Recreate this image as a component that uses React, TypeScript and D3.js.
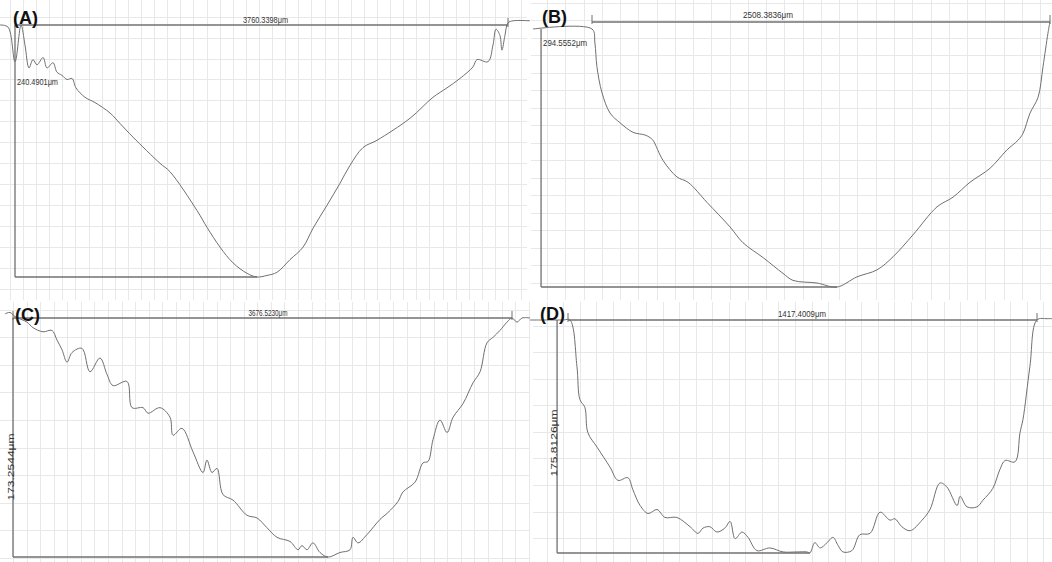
import * as d3 from "d3";

const titles = ["(A)", "(B)", "(C)", "(D)"];
const widthLabels = ["3760.3398μm", "2508.3836μm", "3676.5230μm", "1417.4009μm"];
const depthLabels = ["240.4901μm", "294.5552μm", "173.2544μm", "175.8126μm"];
const widths = [3760.3398, 2508.3836, 3676.523, 1417.4009];
const depths = [240.4901, 294.5552, 173.2544, 175.8126];

// scan position (μm) and depth below the surface (μm)
const posA = [-114, -53, 0, 46, 76, 107, 137, 168, 214, 244, 290, 320, 358, 397, 435, 465, 534, 610, 725, 801, 900, 1106, 1182, 1388, 1464, 1564, 1663, 1770, 1846, 1922, 1998, 2097, 2197, 2273, 2380, 2479, 2555, 2654, 2761, 3013, 3188, 3295, 3394, 3493, 3524, 3608, 3646, 3669, 3699, 3714, 3737, 3760, 3798, 3928];
const depthA = [0, 2, 35, 0, 19, 41, 33, 38, 31, 41, 36, 45, 48, 52, 51, 60, 69, 74, 84, 94, 107, 132, 140, 177, 193, 212, 227, 237, 240.5, 239, 236, 224, 212, 194, 172, 151, 134, 117, 110, 89, 69, 60, 51, 40, 33, 35, 19, 4, 10, 24, 10, -2, -4, -4];

const posB = [-323, 0, 16, 27, 55, 99, 153, 225, 290, 318, 334, 389, 466, 526, 630, 756, 827, 937, 1046, 1101, 1232, 1342, 1451, 1561, 1649, 1758, 1890, 1977, 2070, 2180, 2273, 2333, 2361, 2399, 2443, 2470, 2497, 2508];
const depthB = [0, 0, 16, 43, 73, 96, 107, 118, 121, 124, 127, 150, 169, 175, 198, 226, 244, 261, 279, 287, 290, 294.6, 283, 275, 260, 235, 203, 192, 175, 159, 138, 127, 119, 96, 78, 43, 5, -8];

const posC = [-59, -22, 15, 103, 147, 221, 287, 324, 361, 398, 435, 508, 567, 641, 693, 737, 840, 877, 958, 995, 1083, 1157, 1179, 1245, 1326, 1400, 1429, 1466, 1503, 1547, 1621, 1724, 1798, 1871, 1945, 2041, 2100, 2129, 2166, 2210, 2262, 2321, 2409, 2483, 2505, 2542, 2608, 2704, 2763, 2837, 2874, 2962, 3021, 3058, 3095, 3146, 3198, 3242, 3316, 3389, 3441, 3492, 3537, 3588, 3640, 3677, 3713, 3750, 3809];
const depthC = [-3, -4, -1, 3, 7, 10, 9, 16, 23, 32, 25, 22, 39, 29, 41, 49, 46, 65, 65, 69, 65, 72, 85, 80, 97, 112, 103, 112, 109, 128, 132, 143, 145, 152, 159, 162, 168, 165, 168, 163, 170, 173.3, 170, 168, 159, 163, 157, 146, 141, 133, 126, 119, 105, 104, 88, 74, 83, 72, 62, 47, 39, 18, 14, 9, 3, 0, 3, 0, 0];

const posD = [-115, -15, 6, 27, 36, 51, 60, 88, 127, 151, 181, 196, 218, 242, 269, 293, 329, 369, 393, 408, 429, 450, 474, 490, 505, 526, 544, 571, 610, 650, 692, 722, 731, 746, 762, 783, 801, 816, 831, 858, 882, 913, 943, 973, 988, 1009, 1034, 1070, 1094, 1124, 1145, 1176, 1185, 1206, 1236, 1254, 1284, 1305, 1321, 1351, 1366, 1375, 1396, 1417, 1448, 1463];
const depthD = [0, 0, 0, 35, 60, 66, 85, 96, 111, 121, 119, 128, 140, 146, 143, 149, 149, 156, 161, 157, 156, 160, 157, 152, 165, 160, 164, 174, 172, 175, 175, 175, 175.8, 168, 172, 168, 164, 170, 175, 174, 162, 161, 145, 151, 150, 156, 159, 151, 143, 123, 126, 140, 133, 141, 141, 136, 127, 113, 106, 107, 85, 75, 35, 0, -1, -1];

const W = 1052;
const H = 562;
const font = "'Liberation Sans', Arial, sans-serif";

// screen layout of each panel
const layout = [
  { pos: posA, depth: depthA, xr: [15, 508], yr: [25, 277], box: [0, 0, 527, 300], gx: [100, 61], gy: [20, 12], title: [13, 24], wl: [265.5, 23, 45], dl: [17, 85, 41], rotated: false, top: 0, vPos: 0 },
  { pos: posB, depth: depthB, xr: [592, 1050], yr: [29, 287], box: [531, 0, 1052, 300], gx: [100, 54], gy: [20, 10], title: [542, 23], wl: [768, 18, 50], dl: [543, 46, 44], rotated: false, top: -8, vPos: -279 },
  { pos: posC, depth: depthC, xr: [13, 512], yr: [318, 557], box: [0, 302, 530, 562], gx: [100, 0], gy: [20, 14], title: [15, 321], wl: [268, 316, 39], dl: [14, 467, 67], rotated: true, top: 0, vPos: 0 },
  { pos: posD, depth: depthD, xr: [568, 1037], yr: [320, 553], box: [533, 302, 1052, 562], gx: [50, 36], gy: [20, 4.5], title: [540, 320], wl: [802, 317, 48], dl: [556.5, 443, 67], rotated: true, top: 0, vPos: -33 },
];

function gridValues(scale, lo, hi, step, offset) {
  const a = Math.min(scale.invert(lo), scale.invert(hi));
  const b = Math.max(scale.invert(lo), scale.invert(hi));
  const start = offset + Math.ceil((a - offset) / step) * step;
  return d3.range(start, b, step);
}

const Panel = ({ i }) => {
  const p = layout[i];
  const x = d3.scaleLinear().domain([0, widths[i]]).range(p.xr);
  const y = d3.scaleLinear().domain([0, depths[i]]).range(p.yr);
  const [bx0, by0, bx1, by1] = p.box;

  const pts = p.pos.map((v, k) => [v, p.depth[k]]);
  const line = d3
    .line()
    .x((d) => x(d[0]))
    .y((d) => y(d[1]))
    .curve(d3.curveCatmullRom.alpha(0.5));

  // deepest point ends the bottom measuring line
  const deepest = p.pos[d3.maxIndex(p.depth)];

  const vLines = gridValues(x, bx0, bx1, p.gx[0], p.gx[1]);
  const hLines = gridValues(y, by0, by1, p.gy[0], p.gy[1]);

  return (
    <g>
      <g className="grid" stroke="#e8e8e8" strokeWidth={1}>
        {vLines.map((v) => (
          <line key={"v" + v} x1={Math.round(x(v)) + 0.5} x2={Math.round(x(v)) + 0.5} y1={by0} y2={by1} />
        ))}
        {hLines.map((v) => (
          <line key={"h" + v} x1={bx0} x2={bx1} y1={Math.round(y(v)) + 0.5} y2={Math.round(y(v)) + 0.5} />
        ))}
      </g>
      <g className="measure" stroke="#707070" strokeWidth={1.3} fill="none">
        <line x1={x(0)} x2={x(widths[i])} y1={y(p.top)} y2={y(p.top)} />
        <line x1={x(0)} x2={x(0)} y1={y(p.top) - 7} y2={y(p.top) + 2} strokeWidth={1} />
        <line x1={x(widths[i])} x2={x(widths[i])} y1={y(p.top) - 7} y2={y(p.top) + 2} strokeWidth={1} />
        <line x1={x(p.vPos)} x2={x(p.vPos)} y1={y(0)} y2={y(depths[i])} />
        <line x1={x(p.vPos)} x2={x(deepest)} y1={y(depths[i])} y2={y(depths[i])} />
      </g>
      <path d={line(pts)} fill="none" stroke="#707070" strokeWidth={1} strokeLinejoin="round" />
      <text
        x={p.wl[0]}
        y={p.wl[1]}
        textAnchor="middle"
        fontSize={9}
        fontFamily={font}
        fill="#333"
        textLength={p.wl[2]}
        lengthAdjust="spacingAndGlyphs"
      >
        {widthLabels[i]}
      </text>
      {p.rotated ? (
        <text
          transform={`translate(${p.dl[0]},${p.dl[1]}) rotate(-90)`}
          textAnchor="middle"
          fontSize={9}
          fontFamily={font}
          fill="#333"
          textLength={p.dl[2]}
          lengthAdjust="spacingAndGlyphs"
        >
          {depthLabels[i]}
        </text>
      ) : (
        <text
          x={p.dl[0]}
          y={p.dl[1]}
          fontSize={9}
          fontFamily={font}
          fill="#333"
          textLength={p.dl[2]}
          lengthAdjust="spacingAndGlyphs"
        >
          {depthLabels[i]}
        </text>
      )}
      <text x={p.title[0]} y={p.title[1]} fontSize={18} fontWeight="bold" fontFamily={font} fill="#111">
        {titles[i]}
      </text>
    </g>
  );
};

const App = () => {
  return (
    <svg
      width={W}
      height={H}
      viewBox={`0 0 ${W} ${H}`}
      style={{ position: "absolute", left: 0, top: 0, background: "#fff" }}
    >
      <rect width={W} height={H} fill="#fff" />
      {layout.map((_, i) => (
        <Panel key={titles[i]} i={i} />
      ))}
    </svg>
  );
};

export default App;
